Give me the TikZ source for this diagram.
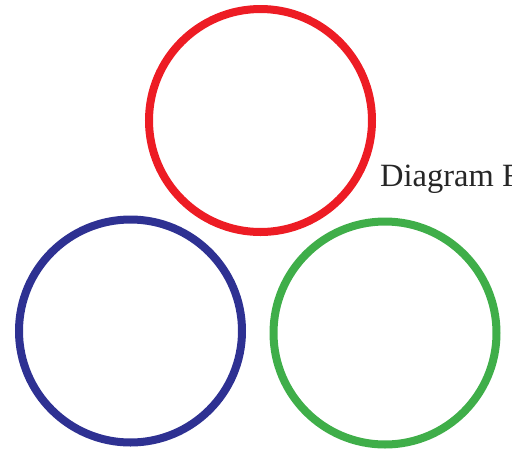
\documentclass[tikz,border=0pt]{standalone}
\usepackage{fontspec}
\setmainfont{Liberation Serif}
\definecolor{ringred}{HTML}{ED1C24}
\definecolor{ringblue}{HTML}{2E3192}
\definecolor{ringgreen}{HTML}{3FAE49}
\begin{document}
\begin{tikzpicture}[x=1pt,y=-1pt,
  ring/.style={circle,draw=#1,line width=8pt,minimum size=223pt,inner sep=0pt},
  lbl/.style={anchor=base west,inner sep=0pt,font=\fontsize{32.5}{38}\selectfont,text=black!85}]
\useasboundingbox (0,0) rectangle (512,448);
\clip (0,0) rectangle (512,448);
\node[ring=ringred] (red) at (260.5,120.5) {};
\node[ring=ringblue] (blue) at (130.5,331) {};
\node[ring=ringgreen] (green) at (385,333) {};
\node[lbl] (title) at (380,186) {Diagram F};
\end{tikzpicture}
\end{document}
